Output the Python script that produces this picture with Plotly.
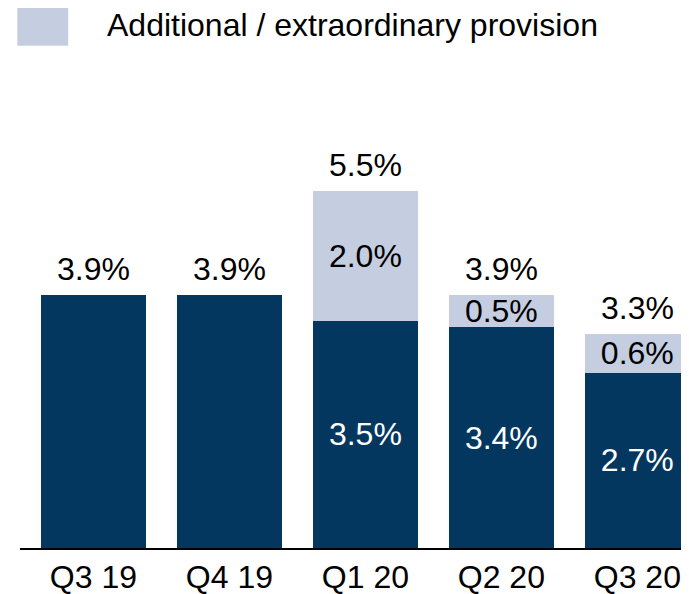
import plotly.graph_objects as go

quarters = ["Q3 19", "Q4 19", "Q1 20", "Q2 20", "Q3 20"]
base_provision = [3.9, 3.9, 3.5, 3.4, 2.7]
extra_provision = [None, None, 2.0, 0.5, 0.6]
totals = [3.9, 3.9, 5.5, 3.9, 3.3]

DARK = "#03375f"
LIGHT = "#c4cee0"
FONT = "Liberation Sans, Arial, sans-serif"
SIZE = 32

fig = go.Figure()
fig.add_trace(go.Bar(
    x=quarters, y=base_provision,
    marker=dict(color=DARK, line=dict(width=0)),
    text=[f"{v:.1f}%" for v in base_provision],
    texttemplate=["", "", "%{text}", "%{text}", "%{text}"],
    textposition="inside", insidetextanchor="middle",
    textfont=dict(color="white", size=SIZE, family=FONT),
    constraintext="none", showlegend=False,
))
fig.add_trace(go.Bar(
    x=quarters, y=extra_provision,
    marker=dict(color=LIGHT, line=dict(width=0)),
    text=[f"{v:.1f}%" if v else "" for v in extra_provision],
    textposition="inside", insidetextanchor="middle",
    textfont=dict(color="black", size=SIZE, family=FONT),
    constraintext="none", showlegend=False,
))

# totals above the bars
for q, t in zip(quarters, totals):
    fig.add_annotation(x=q, y=t, text=f"{t:.1f}%", showarrow=False,
                       yanchor="bottom", yshift=6,
                       font=dict(size=SIZE, color="black", family=FONT))

# legend box drawn by hand
fig.add_shape(type="rect", xref="paper", yref="paper",
              x0=-0.004, x1=0.072, y0=1.029, y1=1.113,
              fillcolor=LIGHT, line=dict(width=0))
fig.add_annotation(xref="paper", yref="paper", x=0.127, y=1.072,
                   xanchor="left", yanchor="middle", showarrow=False,
                   text="Additional / extraordinary provision",
                   font=dict(size=SIZE, color="black", family=FONT))

# page body has an 8px margin, so the figure is 8px smaller than the window
fig.update_layout(
    barmode="stack", bargap=0.228,
    width=681, height=586,
    margin=dict(l=12, r=0, t=52, b=46),
    plot_bgcolor="white", paper_bgcolor="white",
    font=dict(family=FONT, size=SIZE, color="black"),
)
fig.update_xaxes(range=[-0.54, 4.38], showline=True, linecolor="black",
                 linewidth=2, ticks="", ticklabelstandoff=0, automargin=False,
                 tickfont=dict(size=SIZE, color="black"))
fig.update_yaxes(range=[0, 7.52], visible=False)

fig.write_html("out.html")
